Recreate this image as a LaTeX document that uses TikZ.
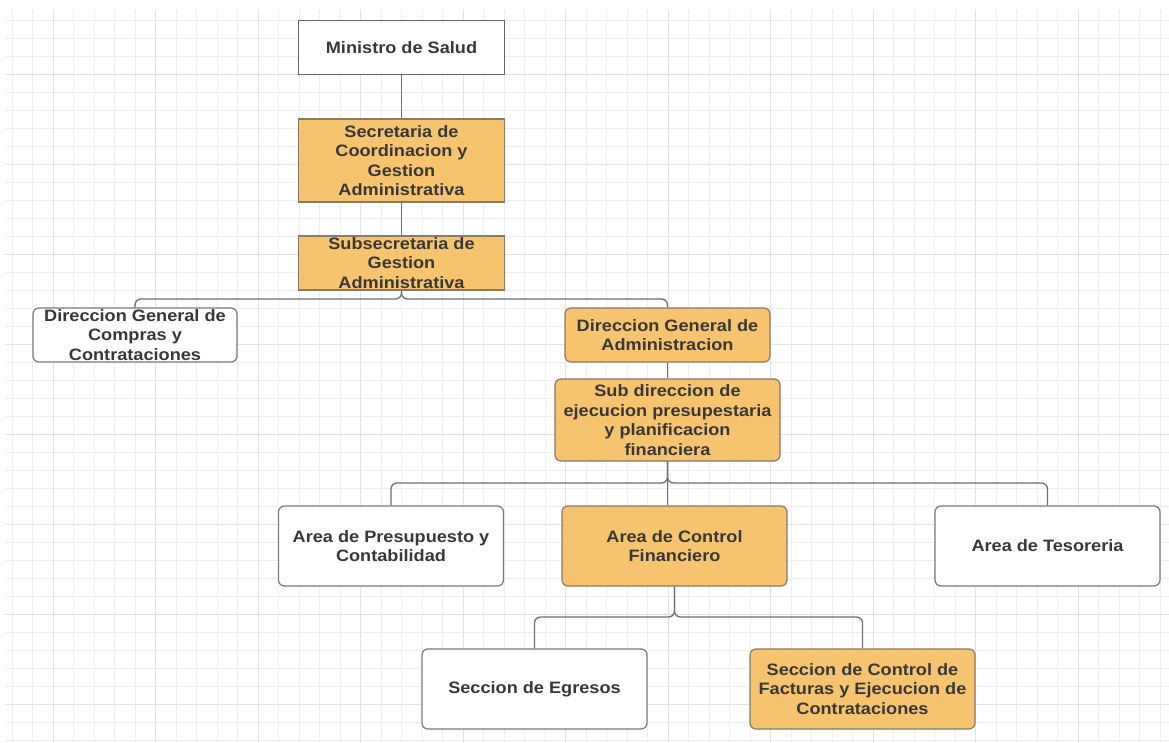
\documentclass[tikz,border=0pt]{standalone}
\usepackage{fontspec}
\setmainfont{Liberation Sans}[FakeStretch=1.1]
\definecolor{orgfill}{HTML}{F6C46E}
\definecolor{orgdraw}{HTML}{8A7A66}
\definecolor{wdraw}{HTML}{7A7A7A}
\definecolor{txt}{HTML}{383838}
\definecolor{gridminor}{HTML}{EEEEEE}
\definecolor{gridmajor}{HTML}{E2E2E2}
\definecolor{conncol}{HTML}{707070}
\tikzset{
  box/.style={draw=wdraw, line width=1.2pt, fill=white, inner sep=0pt, align=center,
    text=txt, font=\fontsize{16.5}{19.5}\selectfont\bfseries},
  obox/.style={box, fill=orgfill, draw=orgdraw},
  rbox/.style={rounded corners=6pt},
  conn/.style={draw=conncol, line width=1.3pt, rounded corners=6pt},
}
\begin{document}
\begin{tikzpicture}[x=1pt,y=-1pt]
\useasboundingbox (0,0) rectangle (1169,743);
\fill[white] (0,0) rectangle (1169,743);
% grid
\begin{scope}
\clip (5,10) rectangle (1169,743);
\foreach \i in {0,...,56} {\draw[gridminor, line width=0.8pt] (12+20.5*\i,10) -- (12+20.5*\i,743);}
\foreach \i in {0,...,40} {\draw[gridminor, line width=0.8pt] (5,20+18*\i) -- (1169,20+18*\i);}
\foreach \i in {0,...,10} {\draw[gridmajor, line width=0.9pt] (53+102.5*\i,10) -- (53+102.5*\i,743);}
\foreach \i in {0,...,7} {\draw[gridmajor, line width=0.9pt] (5,74+90*\i) -- (1169,74+90*\i);}
\end{scope}
% nodes
\node[box, draw=black!60, line width=1.4pt, minimum width=205.5pt, minimum height=53.5pt] (min) at (401.5,47.5) {Ministro de Salud};
\node[obox, minimum width=205.5pt, minimum height=83pt] (sec) at (401.5,160.5) {Secretaria de\\Coordinacion y\\Gestion\\Administrativa};
\node[obox, minimum width=205.5pt, minimum height=54pt] (subs) at (401.5,263) {Subsecretaria de\\Gestion\\Administrativa};
\node[box, rbox, minimum width=204pt, minimum height=54pt] (comp) at (135,335) {Direccion General de\\Compras y\\Contrataciones};
\node[obox, rbox, minimum width=205pt, minimum height=54pt] (dga) at (667.5,335) {Direccion General de\\Administracion};
\node[obox, rbox, minimum width=225pt, minimum height=82pt] (sd) at (667.5,420) {Sub direccion de\\ejecucion presupestaria\\y planificacion\\financiera};
\node[box, rbox, minimum width=225pt, minimum height=80pt] (pres) at (391,546) {Area de Presupuesto y\\Contabilidad};
\node[obox, rbox, minimum width=225pt, minimum height=80pt] (cf) at (674.5,546) {Area de Control\\Financiero};
\node[box, rbox, minimum width=225pt, minimum height=80pt] (tes) at (1047.5,546) {Area de Tesoreria};
\node[box, rbox, minimum width=225pt, minimum height=80pt] (egr) at (534.5,689) {Seccion de Egresos};
\node[obox, rbox, minimum width=225pt, minimum height=80pt] (fac) at (862.5,689) {Seccion de Control de\\Facturas y Ejecucion de\\Contrataciones};
% junction coordinates
\coordinate (j1) at (0,299);
\coordinate (j2) at (0,483);
\coordinate (j3) at (0,617);
% connectors
\draw[conn] (min.south) -- (sec.north);
\draw[conn] (sec.south) -- (subs.north);
\draw[conn] (subs.south) -- (subs.south |- j1) -| (comp.north);
\draw[conn] (subs.south) -- (subs.south |- j1) -| (dga.north);
\draw[conn] (dga.south) -- (sd.north);
\draw[conn] (sd.south) -- (sd.south |- j2) -| (pres.north);
\draw[conn] (sd.south) -- (sd.south |- cf.north);
\draw[conn] (sd.south) -- (sd.south |- j2) -| (tes.north);
\draw[conn] (cf.south) -- (cf.south |- j3) -| (egr.north);
\draw[conn] (cf.south) -- (cf.south |- j3) -| (fac.north);
\end{tikzpicture}
\end{document}
